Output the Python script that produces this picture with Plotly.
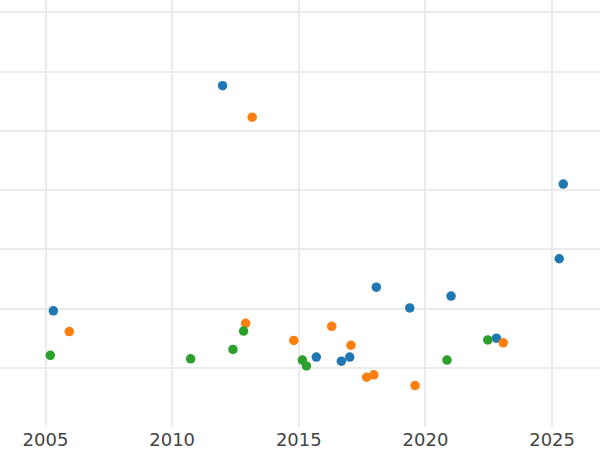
import plotly.graph_objects as go

blue_x = [2011.99, 2025.44, 2025.28, 2005.31, 2018.06, 2019.38, 2021.01, 2015.69, 2016.68, 2017.01, 2022.80]
blue_y = [57.6, 41.0, 28.4, 19.6, 23.6, 20.1, 22.1, 11.8, 11.1, 11.8, 15.0]

orange_x = [2013.16, 2005.94, 2012.90, 2014.80, 2016.30, 2017.06, 2017.68, 2017.96, 2019.59, 2023.07]
orange_y = [52.3, 16.1, 17.5, 14.6, 17.0, 13.8, 8.4, 8.8, 7.0, 14.2]

green_x = [2005.19, 2010.73, 2012.40, 2012.82, 2015.14, 2015.30, 2020.85, 2022.46]
green_y = [12.1, 11.5, 13.1, 16.2, 11.3, 10.3, 11.3, 14.7]

series = [
    ("A", blue_x, blue_y, "#1f77b4"),
    ("B", orange_x, orange_y, "#ff7f0e"),
    ("C", green_x, green_y, "#2ca02c"),
]

fig = go.Figure()
for name, xs, ys, col in series:
    fig.add_trace(go.Scatter(x=xs, y=ys, mode="markers", name=name,
                             marker=dict(color=col, size=9.5, line=dict(width=0))))

fig.update_layout(
    width=600, height=450,
    paper_bgcolor="white", plot_bgcolor="white",
    margin=dict(l=0, r=0, t=0, b=23),
    showlegend=False,
    font=dict(family="DejaVu Sans", size=18, color="#444"),
)
fig.update_xaxes(range=[2003.204, 2026.89], tick0=2005, dtick=5,
                 showgrid=True, gridcolor="#ebebeb", gridwidth=1.5,
                 zeroline=False, showline=False, ticks="")
fig.update_yaxes(range=[0, 72.07], tick0=0, dtick=10,
                 showgrid=True, gridcolor="#ebebeb", gridwidth=1.5,
                 zeroline=False, showline=False, showticklabels=False, ticks="")

fig.write_html("out.html", config={"displayModeBar": False},
               post_script="document.body.style.margin='0';")
